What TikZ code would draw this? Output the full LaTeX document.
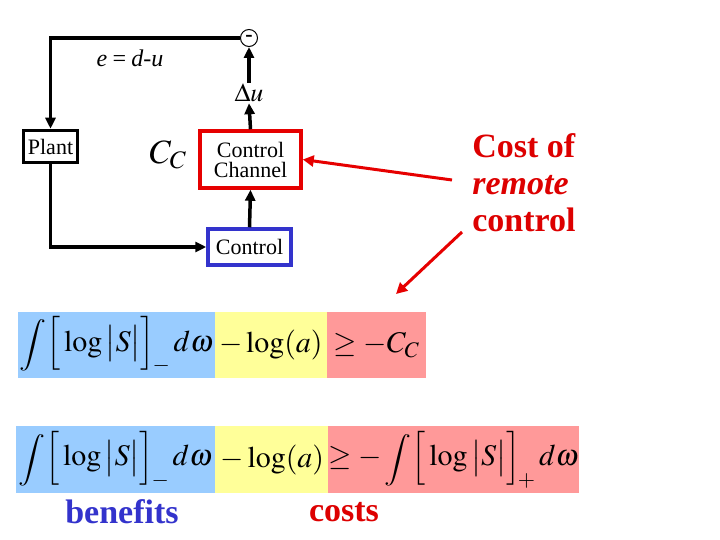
\documentclass[tikz,border=0pt]{standalone}
\usepackage{mathptmx}
\usepackage{graphicx}
\usepackage[no-math]{fontspec}
\setmainfont{Liberation Serif}
\usetikzlibrary{arrows.meta}
\definecolor{bluefill}{RGB}{153,204,255}
\definecolor{yellowfill}{RGB}{255,255,153}
\definecolor{redfill}{RGB}{255,153,153}
\definecolor{txtblue}{RGB}{51,51,204}
\definecolor{txtred}{RGB}{221,0,0}
\definecolor{boxred}{RGB}{230,0,0}
\definecolor{boxblue}{RGB}{51,51,204}
\newcommand{\myint}{\mathop{\raisebox{-1pt}{\scalebox{1}[0.86]{$\displaystyle\int$}}}}
\tikzset{
  wire/.style={line width=3.5pt,-{Triangle[length=11pt,width=10pt]}},
  redarrow/.style={line width=3pt,draw=boxred,-{Triangle[length=11pt,width=11pt]}},
  blockbox/.style={draw,line width=3.5pt,inner sep=1pt,font=\fontsize{22}{24}\selectfont,align=center},
  eqbox/.style={inner sep=0pt,minimum height=66pt,font=\fontsize{30}{34}\selectfont},
  bigred/.style={text=txtred,font=\fontsize{34}{37}\selectfont\bfseries,align=left},
}
\begin{document}
\begin{tikzpicture}[x=1pt,y=-1pt]
\useasboundingbox (0,0) rectangle (720,540);
% blocks
\node[blockbox,minimum width=54pt,minimum height=32pt] (plant) at (50.5,146.5) {Plant};
\node[blockbox,draw=boxred,minimum width=101pt,minimum height=57pt] (chan) at (250.5,159.5) {Control\\[-4pt]Channel};
\node[blockbox,draw=boxblue,minimum width=83pt,minimum height=36pt] (ctrl) at (249.5,247) {Control};
\node[circle,draw,line width=1pt,minimum size=17pt,inner sep=0pt,font=\bfseries\fontsize{22}{22}\selectfont] (sum) at (249,38) {\raisebox{-4pt}{-}};
\node[inner sep=1pt,font=\fontsize{26}{28}\selectfont] (du) at (249,93) {$\Delta u$};
\node[font=\fontsize{24}{26}\selectfont\itshape] (elabel) at (130,58) {e\,=\,d-u};
\node[font=\fontsize{34}{36}\selectfont] (cc) at (168,155) {$C_C$};
% connectors
\draw[wire] (sum.west) -| (plant.north);
\draw[wire] (plant.south) |- (ctrl.west);
\draw[wire] (ctrl.north) -- (chan.south);
\draw[wire] (chan.north) -- (du.south);
\draw[wire] (du.north) -- (sum.south);
% cost label
\node[bigred] (cost) at (524,183) {Cost of\\\textit{remote}\\control};
\coordinate (a1s) at (452,180);
\coordinate (a2s) at (462,232);
\coordinate (a2e) at (396,294);
\draw[redarrow] (a1s) -- (chan.east);
\draw[redarrow] (a2s) -- (a2e);
% equation row 1
\node[eqbox,fill=bluefill,minimum width=197pt] (b1) at (116.5,345) {$\myint\!\Big[\log\big|S\big|\Big]_{\!-}\,d\omega$};
\node[eqbox,fill=yellowfill,minimum width=112pt] (y1) at (271,345) {$-\log(a)$};
\node[eqbox,fill=redfill,minimum width=99pt] (r1) at (376.5,345) {$\geq -C_C$};
% equation row 2
\node[eqbox,fill=bluefill,minimum width=199pt,minimum height=67pt] (b2) at (115.5,459.5) {$\myint\!\Big[\log\big|S\big|\Big]_{\!-}\,d\omega$};
\node[eqbox,fill=yellowfill,minimum width=115pt,minimum height=67pt] (y2) at (272.5,459.5) {$-\log(a)$};
\node[eqbox,fill=redfill,minimum width=247pt,minimum height=67pt] (r2) at (453.5,459.5) {$\geq -\myint\!\Big[\log\big|S\big|\Big]_{\!+}\,d\omega$};
% bottom labels
\node[font=\fontsize{34}{36}\selectfont\bfseries,text=txtblue] (ben) at (122,512) {benefits};
\node[font=\fontsize{34}{36}\selectfont\bfseries,text=txtred] (costs) at (344,512) {costs};
\end{tikzpicture}
\end{document}
